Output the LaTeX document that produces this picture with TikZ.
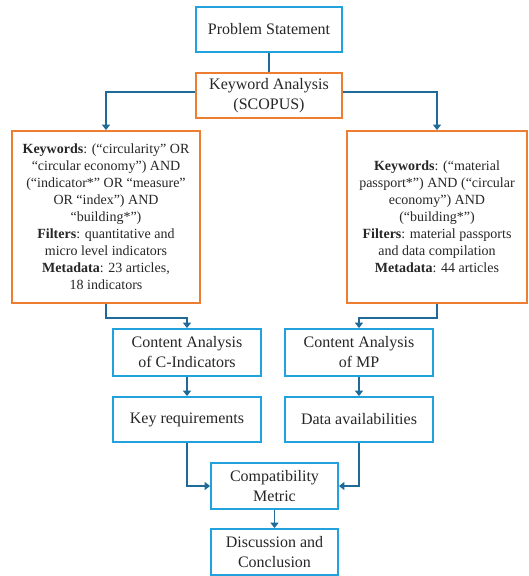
\documentclass[tikz,border=0pt]{standalone}
\usepackage{fontspec}
\setmainfont{Liberation Serif}
\usetikzlibrary{arrows.meta}
\definecolor{bbox}{HTML}{22A2DC}
\definecolor{obox}{HTML}{ED7D31}
\definecolor{connc}{HTML}{1F6A96}
\definecolor{txt}{HTML}{262626}
\begin{document}
\begin{tikzpicture}[x=1pt,y=-1pt,
  basebox/.style={line width=1.8pt, fill=white, inner sep=0pt, align=center, text=txt},
  bluebox/.style={basebox, draw=bbox, font=\fontsize{16}{20}\selectfont},
  orangebox/.style={basebox, draw=obox, font=\fontsize{16}{20}\selectfont},
  bigbox/.style={basebox, draw=obox, font=\fontsize{14}{17}\selectfont, minimum height=172},
  connline/.style={draw=connc, line width=1.8pt},
  conn/.style={connline, -{Triangle[length=5.5pt,width=8pt]}},
]
\useasboundingbox (0,0) rectangle (528,576);

\node[bluebox, minimum width=146, minimum height=45] (ps) at (269,29.5) {Problem Statement};
\node[orangebox, minimum width=146, minimum height=45] (ka) at (269,95.5) {Keyword Analysis\\(SCOPUS)};

\node[bigbox, minimum width=188] (lbox) at (106,217) {\textbf{Keywords}: (“circularity” OR\\“circular economy”) AND\\(“indicator*” OR “measure”\\OR “index”) AND\\“building*”)\\\textbf{Filters}: quantitative and\\micro level indicators\\\textbf{Metadata}: 23 articles,\\18 indicators};
\node[bigbox, minimum width=180] (rbox) at (437,217) {\textbf{Keywords}: (“material\\passport*”) AND (“circular\\economy”) AND\\(“building*”)\\\textbf{Filters}: material passports\\and data compilation\\\textbf{Metadata}: 44 articles};

\node[bluebox, minimum width=148, minimum height=47] (ca1) at (187,352.5) {Content Analysis\\of C-Indicators};
\node[bluebox, minimum width=148, minimum height=47] (ca2) at (359,352.5) {Content Analysis\\of MP};
\node[bluebox, minimum width=148, minimum height=45] (kr) at (187,419.5) {Key requirements};
\node[bluebox, minimum width=148, minimum height=45] (da) at (359,419.5) {Data availabilities};
\node[bluebox, minimum width=127, minimum height=46] (cm) at (274.5,486) {Compatibility\\Metric};
\node[bluebox, minimum width=127, minimum height=46] (dc) at (274.5,552) {Discussion and\\Conclusion};

\draw[connline] (ps.south) -- (ka.north);
\draw[conn] ([yshift=3.5pt]ka.west) -| (lbox.north);
\draw[conn] ([yshift=3.5pt]ka.east) -| (rbox.north);
\draw[conn] (lbox.south) -- ++(0,14) -| (ca1.north);
\draw[conn] (rbox.south) -- ++(0,14) -| (ca2.north);
\draw[conn] (ca1.south) -- (kr.north);
\draw[conn] (ca2.south) -- (da.north);
\draw[conn] (kr.south) |- (cm.west);
\draw[conn] (da.south) |- (cm.east);
\draw[conn] (cm.south) -- (dc.north);
\end{tikzpicture}
\end{document}
